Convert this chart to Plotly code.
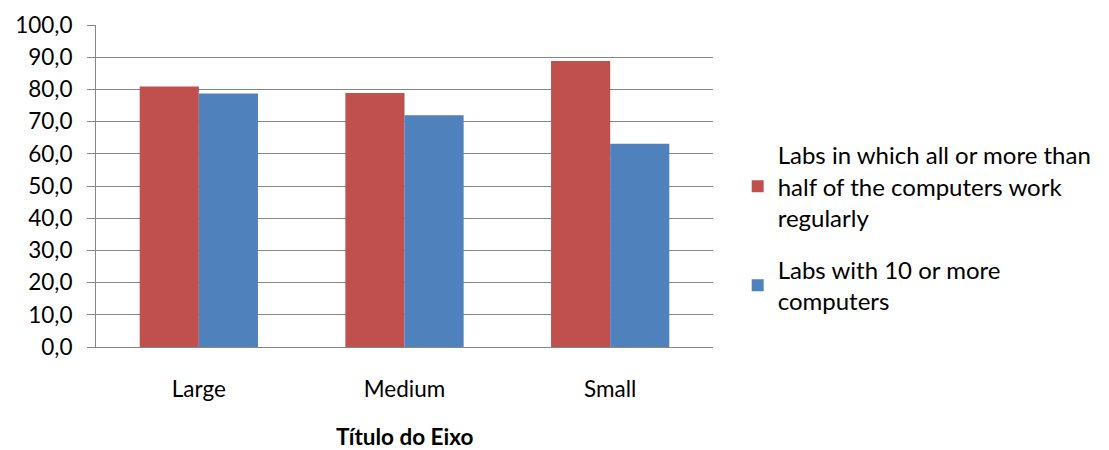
import plotly.graph_objects as go

categories = ["Large", "Medium", "Small"]
labs_working = [80.9, 78.9, 88.8]
labs_ten_plus = [78.7, 72.0, 63.1]
series_names = [
    "Labs in which all or more than<br>half of the computers work<br>regularly",
    "Labs with 10 or more<br>computers",
]
y_ticks = [0, 10, 20, 30, 40, 50, 60, 70, 80, 90, 100]
y_tick_labels = ["0,0", "10,0", "20,0", "30,0", "40,0", "50,0", "60,0", "70,0", "80,0", "90,0", "100,0"]
x_title = "<b>Título do Eixo</b>"

FONT = "Lato"
TICK_SIZE = 22.5
fig = go.Figure()
fig.add_trace(go.Bar(x=categories, y=labs_working, name=series_names[0], legendgroup="a",
                     marker=dict(color="#C0504D", line=dict(width=0))))
fig.add_trace(go.Bar(x=categories, y=labs_ten_plus, name=series_names[1], legendgroup="b",
                     marker=dict(color="#4F81BD", line=dict(width=0))))

fig.add_annotation(text=x_title, xref="paper", yref="paper", x=0.5, y=0,
                   yshift=-89, yanchor="middle", showarrow=False,
                   font=dict(family=FONT, size=TICK_SIZE, color="black"))

fig.update_layout(
    width=1101, height=442,
    margin=dict(l=88, r=396, t=17, b=103, autoexpand=False),
    paper_bgcolor="white", plot_bgcolor="white",
    barmode="group", bargap=0.425, bargroupgap=0,
    font=dict(family=FONT, size=TICK_SIZE, color="black"),
    showlegend=True,
    legend=dict(x=1.040, xanchor="left", y=0.665, yanchor="top",
                font=dict(family=FONT, size=24, color="black"),
                traceorder="grouped", tracegroupgap=18, itemsizing="constant"),
    xaxis=dict(showline=True, linecolor="#868686", linewidth=1, ticks="",
               tickfont=dict(family=FONT, size=TICK_SIZE), ticklabelstandoff=22),
    yaxis=dict(range=[0, 100], tickvals=y_ticks, ticktext=y_tick_labels,
               showgrid=True, gridcolor="#868686", gridwidth=1,
               showline=True, linecolor="#868686", linewidth=1,
               ticks="outside", ticklen=8, tickcolor="#868686",
               tickfont=dict(family=FONT, size=TICK_SIZE), ticklabelstandoff=10,
               zeroline=False),
)
fig.write_html("out.html")
